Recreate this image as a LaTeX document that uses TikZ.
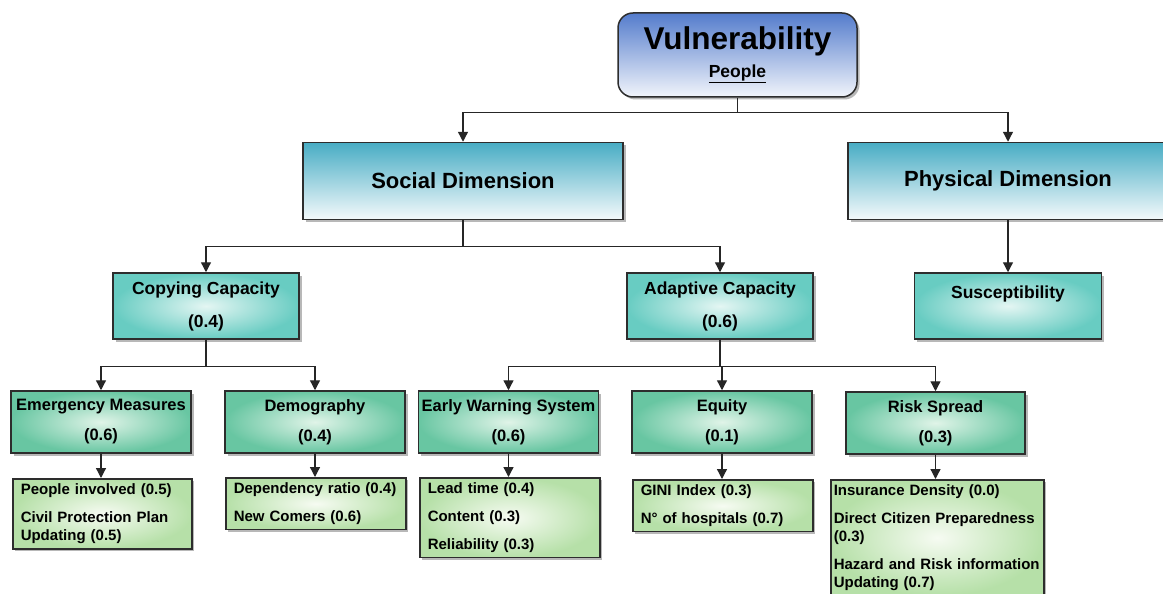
\documentclass[tikz,border=0pt]{standalone}
\usepackage{fontspec}
\setmainfont{Liberation Sans}
\usetikzlibrary{arrows.meta,shadows}

\definecolor{vulblue}{RGB}{84,124,204}
\definecolor{dimteal}{RGB}{72,172,196}
\definecolor{captealout}{RGB}{104,204,194}
\definecolor{captealin}{RGB}{228,246,243}
\definecolor{factout}{RGB}{104,198,162}
\definecolor{factin}{RGB}{224,244,232}
\definecolor{leafout}{RGB}{182,224,168}
\definecolor{leafin}{RGB}{246,251,242}
\definecolor{boxline}{RGB}{45,45,45}

\tikzset{
  box/.style={draw=boxline, line width=1.5pt, align=center, font=\bfseries,
    drop shadow={shadow xshift=2.5pt, shadow yshift=-2.5pt, fill=black!55}},
  toplevel/.style={box, rounded corners=15pt, minimum width=239pt, minimum height=84pt,
    top color=vulblue, bottom color=vulblue!8,
    font=\fontsize{17.5}{28}\selectfont\bfseries},
  dimbox/.style={box, minimum width=320pt, minimum height=77pt,
    top color=dimteal, bottom color=dimteal!6, font=\fontsize{22}{26}\selectfont\bfseries},
  capbox/.style={box, minimum width=186pt, minimum height=66pt,
    inner color=captealin, outer color=captealout, font=\fontsize{17.5}{21}\selectfont\bfseries},
  factbox/.style={box, minimum width=180pt, minimum height=62pt,
    inner color=factin, outer color=factout, font=\fontsize{16.5}{20}\selectfont\bfseries},
  leafbox/.style={box, anchor=north west, align=left, inner xsep=8pt, inner ysep=5pt,
    inner color=leafin, outer color=leafout, font=\fontsize{15}{18}\selectfont\bfseries},
  conn/.style={draw=black!85, line width=1.3pt, -{Triangle[width=10pt,length=10pt]}}
}

\begin{document}
\begin{tikzpicture}[x=1pt,y=-1pt]
  \clip (0,0) rectangle (1163,594);
  \fill[white] (0,0) rectangle (1163,594);

  % top of the tree
  \node[toplevel] (vul) at (737.5,55) {{\fontsize{31.5}{28}\selectfont Vulnerability}\\\underline{People}};

  % dimensions
  \node[dimbox] (social) at (463,181) {Social Dimension};
  \node[dimbox] (physical) at (1008,181) {Physical Dimension};

  % capacities
  \node[capbox] (copying) at (206,306) {Copying Capacity\\[12pt](0.4)};
  \node[capbox] (adaptive) at (720,306) {Adaptive Capacity\\[12pt](0.6)};
  \node[capbox, minimum width=187pt] (suscept) at (1008,306) {Susceptibility\\\strut};

  % factors
  \node[factbox] (emergency) at (101,422) {Emergency Measures\\[10pt](0.6)};
  \node[factbox] (demography) at (315,422) {Demography\\[10pt](0.4)};
  \node[factbox, minimum width=179pt] (warning) at (508.5,422) {Early Warning System\\[10pt](0.6)};
  \node[factbox] (equity) at (722,422) {Equity\\[10pt](0.1)};
  \node[factbox, minimum width=179pt] (riskspread) at (935.5,423) {Risk Spread\\[10pt](0.3)};

  % indicators
  \node[leafbox, text width=163pt] (emergencyleaf) at (12,478)
    {People involved (0.5)\\[10pt]Civil Protection Plan\\Updating (0.5)};
  \node[leafbox, text width=164pt] (demographyleaf) at (225,477)
    {Dependency ratio (0.4)\\[10pt]New Comers (0.6)};
  \node[leafbox, text width=164pt] (warningleaf) at (419,477)
    {Lead time (0.4)\\[10pt]Content (0.3)\\[10pt]Reliability (0.3)};
  \node[leafbox, text width=164pt] (equityleaf) at (632,479)
    {GINI Index (0.3)\\[10pt]N° of hospitals (0.7)};
  \node[leafbox, inner xsep=3pt, text width=207pt] (riskspreadleaf) at (830,479)
    {Insurance Density (0.0)\\[10pt]Direct Citizen Preparedness\\(0.3)\\[10pt]Hazard and Risk information\\Updating (0.7)};

  % connectors
  \foreach \c in {social,physical}
    \draw[conn] (vul.south) -- ++(0,15) -| (\c.north);
  \foreach \c in {copying,adaptive}
    \draw[conn] (social.south) -- ++(0,26) -| (\c.north);
  \draw[conn] (physical.south) -- (suscept.north);
  \foreach \c in {emergency,demography}
    \draw[conn] (copying.south) -- ++(0,27) -| (\c.north);
  \foreach \c in {warning,equity,riskspread}
    \draw[conn] (adaptive.south) -- ++(0,27) -| (\c.north);
  \foreach \c in {emergency,demography,warning,equity,riskspread}
    \draw[conn] (\c.south) -- (\c.south |- \c leaf.north);
\end{tikzpicture}
\end{document}
